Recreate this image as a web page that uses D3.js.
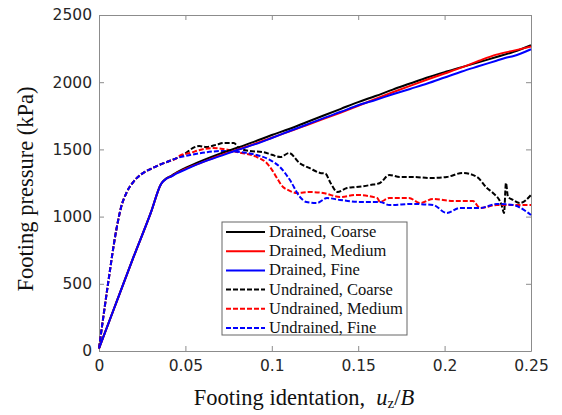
<!DOCTYPE html>
<html><head><meta charset="utf-8">
<script src="https://cdn.jsdelivr.net/npm/d3@7"></script>
<style>body{margin:0;background:#fff}svg{display:block}</style>
</head><body>
<svg id="c" width="562" height="415"></svg>
<script>
// ---- data ----
const xTicks = [0, 0.05, 0.1, 0.15, 0.2, 0.25];
const xTickLabels = ["0", "0.05", "0.1", "0.15", "0.2", "0.25"];
const yTicks = [0, 500, 1000, 1500, 2000, 2500];
const yTickLabels = ["0", "500", "1000", "1500", "2000", "2500"];
const seriesNames = ["Drained, Coarse", "Drained, Medium", "Drained, Fine", "Undrained, Coarse", "Undrained, Medium", "Undrained, Fine"];

const drainedStartX = [0, 0.01, 0.02, 0.03, 0.036];
const drainedStartP = [20, 360, 700, 1030, 1245];

const drainedCoarseX = [0.039, 0.042, 0.045, 0.05, 0.06, 0.07, 0.08, 0.09, 0.1, 0.11, 0.12, 0.13, 0.14, 0.15, 0.16, 0.17, 0.18, 0.19, 0.2, 0.21, 0.22, 0.23, 0.24, 0.25];
const drainedCoarseP = [1285, 1305, 1330, 1362, 1418, 1468, 1512, 1558, 1607, 1652, 1702, 1752, 1802, 1852, 1897, 1945, 1990, 2035, 2075, 2112, 2150, 2187, 2226, 2275];

const drainedMediumX = [0.039, 0.042, 0.045, 0.05, 0.06, 0.07, 0.08, 0.09, 0.1, 0.11, 0.12, 0.13, 0.14, 0.15, 0.16, 0.17, 0.18, 0.19, 0.2, 0.21, 0.22, 0.23, 0.24, 0.25];
const drainedMediumP = [1282, 1302, 1325, 1355, 1405, 1455, 1497, 1540, 1587, 1632, 1680, 1727, 1775, 1825, 1875, 1925, 1973, 2020, 2065, 2110, 2160, 2205, 2235, 2265];

const drainedFineX = [0.039, 0.042, 0.045, 0.05, 0.06, 0.07, 0.08, 0.09, 0.1, 0.11, 0.12, 0.13, 0.14, 0.15, 0.16, 0.17, 0.18, 0.19, 0.2, 0.21, 0.22, 0.23, 0.235, 0.24, 0.25];
const drainedFineP = [1282, 1300, 1322, 1350, 1405, 1450, 1495, 1537, 1585, 1635, 1683, 1733, 1780, 1828, 1868, 1910, 1950, 1990, 2035, 2080, 2120, 2160, 2180, 2195, 2245];

const undrainedStartX = [0, 0.005, 0.01, 0.013, 0.016, 0.02, 0.025, 0.03, 0.035, 0.04, 0.045];
const undrainedStartP = [20, 480, 900, 1080, 1180, 1260, 1320, 1355, 1385, 1410, 1435];

const undrainedCoarseX = [0.05, 0.055, 0.058, 0.062, 0.068, 0.072, 0.078, 0.081, 0.087, 0.095, 0.1, 0.105, 0.11, 0.116, 0.122, 0.128, 0.131, 0.134, 0.138, 0.1435, 0.149, 0.157, 0.1626, 0.168, 0.174, 0.182, 0.1915, 0.2013, 0.2106, 0.2187, 0.2245, 0.228, 0.233, 0.2344, 0.2355, 0.2367, 0.2396, 0.2436, 0.25];
const undrainedCoarseP = [1470, 1515, 1525, 1518, 1535, 1548, 1548, 1510, 1488, 1480, 1460, 1443, 1473, 1399, 1360, 1325, 1320, 1250, 1183, 1213, 1220, 1235, 1250, 1310, 1295, 1295, 1287, 1295, 1325, 1295, 1213, 1176, 1086, 1027, 1250, 1146, 1124, 1101, 1161];

const undrainedMediumX = [0.047, 0.0527, 0.0584, 0.066, 0.0718, 0.08, 0.0914, 0.097, 0.1, 0.103, 0.1065, 0.109, 0.1146, 0.122, 0.1296, 0.1395, 0.149, 0.161, 0.1626, 0.168, 0.1794, 0.1858, 0.1933, 0.2049, 0.2164, 0.2205, 0.2303, 0.25];
const undrainedMediumP = [1455, 1473, 1496, 1510, 1503, 1480, 1443, 1399, 1350, 1287, 1220, 1200, 1176, 1183, 1176, 1146, 1161, 1138, 1109, 1138, 1138, 1101, 1131, 1116, 1116, 1064, 1086, 1086];

const undrainedFineX = [0.0527, 0.0718, 0.0816, 0.0914, 0.099, 0.1047, 0.1105, 0.1163, 0.12, 0.126, 0.132, 0.1395, 0.151, 0.1626, 0.168, 0.1817, 0.1933, 0.2013, 0.2089, 0.2205, 0.2303, 0.2396, 0.2477, 0.25];
const undrainedFineP = [1458, 1488, 1480, 1458, 1421, 1369, 1272, 1146, 1109, 1101, 1138, 1124, 1109, 1109, 1086, 1094, 1086, 1027, 1064, 1064, 1094, 1086, 1034, 1012];

// ---- chart ----
const svg = d3.select("#c");
const L = 99, R = 531, T = 15, B = 351;
const x = d3.scaleLinear().domain([0, 0.25]).range([L, R]);
const y = d3.scaleLinear().domain([0, 2500]).range([B, T]);
const axisCol = "#8c8c8c", textCol = "#262626";

function zip(xs, ps) { return xs.map((v, i) => [v, ps[i]]); }
const dStart = zip(drainedStartX, drainedStartP);
const uStart = zip(undrainedStartX, undrainedStartP);
const series = [
  {data: dStart.concat(zip(drainedCoarseX, drainedCoarseP)), color: "#000000", dash: null},
  {data: dStart.concat(zip(drainedMediumX, drainedMediumP)), color: "#ff0000", dash: null},
  {data: dStart.concat(zip(drainedFineX, drainedFineP)), color: "#0000ff", dash: null},
  {data: uStart.concat(zip(undrainedCoarseX, undrainedCoarseP)), color: "#000000", dash: "5,2"},
  {data: uStart.concat(zip(undrainedMediumX, undrainedMediumP)), color: "#ff0000", dash: "5,2"},
  {data: uStart.concat(zip(undrainedFineX, undrainedFineP)), color: "#0000ff", dash: "5,2"}
];

// axes
function styleAxis(g) {
  g.select(".domain").attr("stroke", axisCol).attr("stroke-width", 1);
  g.selectAll(".tick line").attr("stroke", axisCol);
  g.selectAll(".tick text").attr("fill", textCol).attr("font-family", "DejaVu Sans").attr("font-size", 15.5);
}
const xb = svg.append("g").attr("transform", `translate(0,${B})`)
  .call(d3.axisBottom(x).tickValues(xTicks).tickFormat((d, i) => xTickLabels[i]).tickSizeInner(-5).tickSizeOuter(0).tickPadding(9));
styleAxis(xb);
const xt = svg.append("g").attr("transform", `translate(0,${T})`)
  .call(d3.axisTop(x).tickValues(xTicks).tickFormat("").tickSizeInner(-5).tickSizeOuter(0));
styleAxis(xt);
const yl = svg.append("g").attr("transform", `translate(${L},0)`)
  .call(d3.axisLeft(y).tickValues(yTicks).tickFormat((d, i) => yTickLabels[i]).tickSizeInner(-5).tickSizeOuter(0).tickPadding(7));
styleAxis(yl);
const yr = svg.append("g").attr("transform", `translate(${R},0)`)
  .call(d3.axisRight(y).tickValues(yTicks).tickFormat("").tickSizeInner(-5).tickSizeOuter(0));
styleAxis(yr);

// lines
const line = d3.line().x(d => x(d[0])).y(d => y(d[1])).curve(d3.curveMonotoneX);
// draw undrained first, then drained on top
[3, 4, 5, 0, 1, 2].forEach(i => {
  const s = series[i];
  svg.append("path").attr("d", line(s.data)).attr("fill", "none")
    .attr("stroke", s.color).attr("stroke-width", 2)
    .attr("stroke-dasharray", s.dash).attr("stroke-linejoin", "round");
});

// legend
const lg = svg.append("g");
const lx = 222, ly = 222, lw = 185, lh = 113;
lg.append("rect").attr("x", lx).attr("y", ly).attr("width", lw).attr("height", lh)
  .attr("fill", "#fff").attr("stroke", "#666").attr("stroke-width", 1);
seriesNames.forEach((n, i) => {
  const yy = ly + 10 + i * 19.2;
  lg.append("line").attr("x1", lx + 4).attr("x2", lx + 43).attr("y1", yy).attr("y2", yy)
    .attr("stroke", series[i].color).attr("stroke-width", 2).attr("stroke-dasharray", series[i].dash);
  lg.append("text").attr("x", lx + 47).attr("y", yy + 5).text(n)
    .attr("font-family", "Liberation Serif").attr("font-size", 16.5).attr("fill", "#111");
});

// axis labels
svg.append("text").attr("transform", "translate(33,189) rotate(-90)").attr("text-anchor", "middle")
  .attr("font-family", "Liberation Serif").attr("font-size", 22.5).attr("fill", "#111")
  .text("Footing pressure (kPa)");
const xl = svg.append("text").attr("x", 304).attr("y", 405).attr("text-anchor", "middle")
  .attr("font-family", "Liberation Serif").attr("font-size", 22.5).attr("fill", "#111");
xl.append("tspan").text("Footing identation,\u00a0\u00a0");
xl.append("tspan").attr("font-style", "italic").text("u");
xl.append("tspan").attr("font-size", 15).attr("dy", 3).text("z");
xl.append("tspan").attr("dy", -3).text("/");
xl.append("tspan").attr("font-style", "italic").text("B");
</script>
</body></html>
